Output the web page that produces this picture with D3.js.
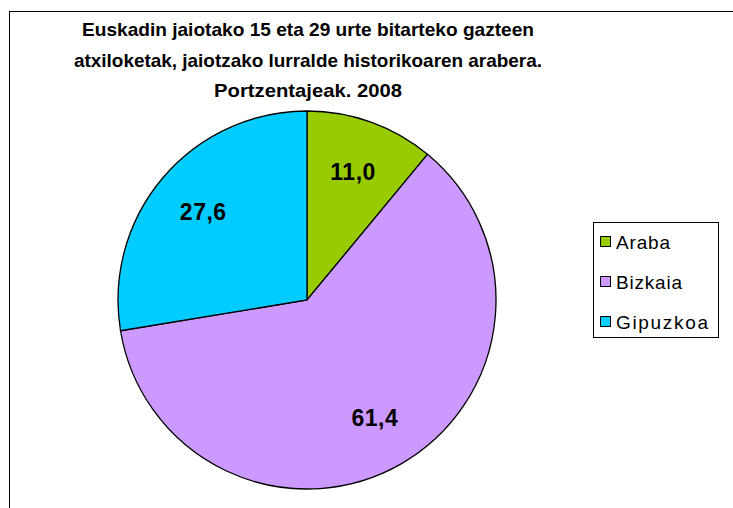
<!DOCTYPE html>
<html>
<head>
<meta charset="utf-8">
<script src="https://cdn.jsdelivr.net/npm/d3@7"></script>
<style>
  body { margin: 0; background: #fff; }
  svg { display: block; font-family: "Liberation Sans", Arial, sans-serif; }
</style>
</head>
<body>
<script>
// data
const regions = ["Araba", "Bizkaia", "Gipuzkoa"];
const shares = [11.0, 61.4, 27.6];
const colours = ["#99CC00", "#CC99FF", "#00CCFF"];
const titleLines = [
  "Euskadin jaiotako 15 eta 29 urte bitarteko gazteen",
  "atxiloketak, jaiotzako lurralde historikoaren arabera.",
  "Portzentajeak. 2008"
];

const w = 733, h = 508;
const cx = 307, cy = 300, r = 189;

// the old chart renderer spaces its letters out a bit
const titleWidths = [452, 468, 188];
const legendWidths = [54, 66, 92];

const svg = d3.select("body").append("svg")
  .attr("width", w)
  .attr("height", h);

// chart frame (right / bottom edges fall outside the picture)
svg.append("rect")
  .attr("x", 9.5).attr("y", 11.5)
  .attr("width", w + 20).attr("height", h + 20)
  .attr("fill", "#fff")
  .attr("stroke", "#000")
  .attr("stroke-width", 1);

// title
svg.append("g")
  .selectAll("text")
  .data(titleLines)
  .enter()
  .append("text")
  .attr("x", 308)
  .attr("y", (d, i) => 36 + i * 30.5)
  .attr("text-anchor", "middle")
  .attr("textLength", (d, i) => titleWidths[i])
  .attr("lengthAdjust", "spacingAndGlyphs")
  .style("font-size", "19px")
  .style("font-weight", "bold")
  .text(d => d);

const colour = d3.scaleOrdinal().domain(regions).range(colours);

const pie = d3.pie().sort(null).value(d => d.v);
const arcs = pie(regions.map((k, i) => ({k: k, v: shares[i]})));

const arc = d3.arc().innerRadius(0).outerRadius(r);
const labelArc = d3.arc().innerRadius(r * 0.72).outerRadius(r * 0.72);

const g = svg.append("g").attr("transform", "translate(" + cx + "," + cy + ")");

g.selectAll("path")
  .data(arcs)
  .enter()
  .append("path")
  .attr("d", arc)
  .attr("fill", d => colour(d.data.k))
  .attr("stroke", "#000")
  .attr("stroke-width", 1.3);

g.selectAll("text")
  .data(arcs)
  .enter()
  .append("text")
  .attr("transform", d => "translate(" + labelArc.centroid(d) + ")")
  .attr("text-anchor", "middle")
  .attr("dy", "0.36em")
  .style("font-size", "23px")
  .style("font-weight", "bold")
  .style("letter-spacing", "0.5px")
  .text(d => d3.format(".1f")(d.data.v).replace(".", ","));

// legend
const legend = svg.append("g");
legend.append("rect")
  .attr("x", 593.5).attr("y", 222.5)
  .attr("width", 125).attr("height", 115)
  .attr("fill", "#fff")
  .attr("stroke", "#000");

const item = legend.selectAll("g.item")
  .data(regions)
  .enter()
  .append("g")
  .attr("class", "item")
  .attr("transform", (d, i) => "translate(600," + (242 + i * 40) + ")");

item.append("rect")
  .attr("x", 0.5).attr("y", -5.5)
  .attr("width", 10).attr("height", 10)
  .attr("fill", d => colour(d))
  .attr("stroke", "#000");

item.append("text")
  .attr("x", 16)
  .attr("y", 7)
  .attr("textLength", (d, i) => legendWidths[i])
  .attr("lengthAdjust", "spacing")
  .style("font-size", "19px")
  .text(d => d);
</script>
</body>
</html>
